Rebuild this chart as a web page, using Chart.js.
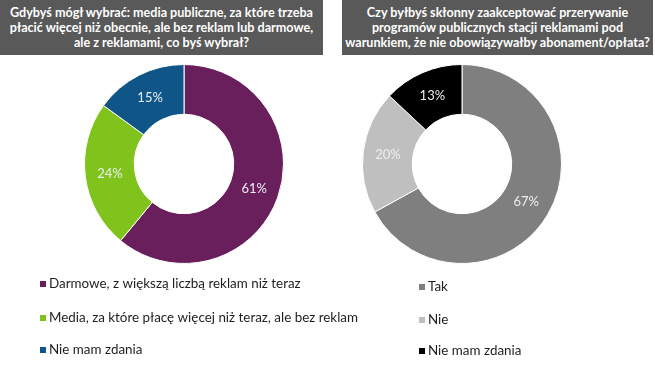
<!DOCTYPE html>
<html>
<head>
<meta charset="utf-8">
<script src="https://cdn.jsdelivr.net/npm/chart.js@4.4.0/dist/chart.umd.min.js"></script>
<style>
  body { margin: 0; background: #fff; width: 655px; height: 373px; overflow: hidden; position: relative; font-family: Lato, "Open Sans", sans-serif; }
  .head { position: absolute; top: 0; height: 55px; background: #595959; color: #fff; font-weight: bold; font-size: 12.6px; line-height: 15px; text-align: center; box-sizing: border-box; padding-top: 5px; white-space: nowrap; }
  canvas { position: absolute; top: 0; }
</style>
</head>
<body>
<div class="head" style="left:0;width:323px">Gdybyś mógł wybrać: media publiczne, za które trzeba<br>płacić więcej niż obecnie, ale bez reklam lub darmowe,<br>ale z reklamami, co byś wybrał?</div>
<div class="head" style="left:342px;width:311px">Czy byłbyś skłonny zaakceptować przerywanie<br>programów publicznych stacji reklamami pod<br>warunkiem, że nie obowiązywałby abonament/opłata?</div>
<canvas id="left" width="400" height="373" style="left:0"></canvas>
<canvas id="right" width="325" height="373" style="left:330px"></canvas>
<script>
const leftLabels = ['Darmowe, z większą liczbą reklam niż teraz', 'Media, za które płacę więcej niż teraz, ale bez reklam', 'Nie mam zdania'];
const leftValues = [61, 24, 15];
const leftColors = ['#6a1f5d', '#7fc31c', '#0f5588'];

const rightLabels = ['Tak', 'Nie', 'Nie mam zdania'];
const rightValues = [67, 20, 13];
const rightColors = ['#7f7f7f', '#bfbfbf', '#000000'];

// percent labels inside the slices
const sliceLabels = {
  id: 'sliceLabels',
  afterDatasetsDraw(chart) {
    const ctx = chart.ctx;
    const meta = chart.getDatasetMeta(0);
    ctx.save();
    ctx.font = '13px Lato, sans-serif';
    ctx.fillStyle = '#eeeeee';
    ctx.textAlign = 'center';
    ctx.textBaseline = 'middle';
    meta.data.forEach((arc, i) => {
      const p = arc.tooltipPosition();
      ctx.fillText(chart.data.datasets[0].data[i] + '%', p.x, p.y);
    });
    ctx.restore();
  }
};

// vertical legend under the doughnut
const stackedLegend = {
  id: 'stackedLegend',
  afterDraw(chart, args, opts) {
    const ctx = chart.ctx;
    const items = Chart.overrides.doughnut.plugins.legend.labels.generateLabels(chart);
    ctx.save();
    ctx.font = '13.4px Lato, sans-serif';
    ctx.textBaseline = 'middle';
    items.forEach((item, i) => {
      const y = opts.rows[i];
      ctx.fillStyle = item.fillStyle;
      ctx.fillRect(opts.x, y - 3, 6, 6);
      ctx.fillStyle = '#1e1e1e';
      ctx.fillText(item.text, opts.x + 9, y);
    });
    ctx.restore();
  }
};

function makeChart(id, labels, values, colors, padding, legend) {
  return new Chart(document.getElementById(id), {
    type: 'doughnut',
    data: {
      labels: labels,
      datasets: [{
        data: values,
        backgroundColor: colors,
        borderColor: '#ffffff',
        borderWidth: 1
      }]
    },
    options: {
      responsive: false,
      animation: false,
      cutout: '50%',
      layout: { padding: padding },
      plugins: {
        legend: { display: false },
        tooltip: { enabled: false },
        stackedLegend: legend
      }
    },
    plugins: [sliceLabels, stackedLegend]
  });
}

makeChart('left', leftLabels, leftValues, leftColors,
  { left: 84, right: 116, top: 64, bottom: 109 },
  { x: 40, rows: [284, 318, 350] });
makeChart('right', rightLabels, rightValues, rightColors,
  { left: 32, right: 93, top: 64, bottom: 109 },
  { x: 89, rows: [287, 320, 351] });
</script>
</body>
</html>
